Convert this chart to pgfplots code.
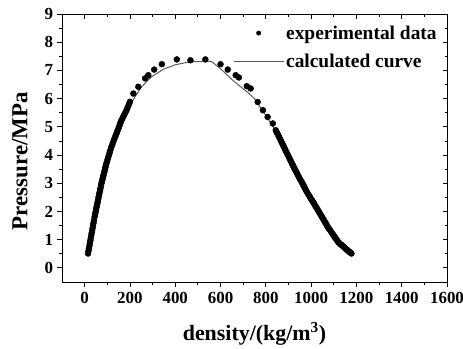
\documentclass[border=0pt]{standalone}
\usepackage{pgfplots}
\pgfplotsset{compat=1.18}
\usepackage{fontspec}
\setmainfont{Liberation Serif}
\definecolor{curvegray}{HTML}{5A5A5A}
\begin{document}
\begin{tikzpicture}
\begin{axis}[
  at={(0,0)}, anchor=south west,
  scale only axis, width=385bp, height=268bp,
  xmin=-100, xmax=1600, ymin=-0.5, ymax=9,
  xtick={0,200,...,1600}, ytick={0,1,...,9},
  minor x tick num=1, minor y tick num=1,
  xtick pos=left, ytick pos=left,
  tick align=outside,
  major tick length=4.5bp, minor tick length=2.5bp,
  every tick/.style={black, line width=0.8bp},
  axis line style={black, line width=0.9bp},
  /pgf/number format/assume math mode=true,
  /pgf/number format/1000 sep={},
  ticklabel style={font=\fontsize{17}{17}\selectfont\bfseries},
  xticklabel style={yshift=-2bp},
  yticklabel style={xshift=-1bp},
  xlabel={density/(kg/m\textsuperscript{3})},
  ylabel={Pressure/MPa},
  xlabel style={font=\fontsize{22}{22}\selectfont\bfseries, at={(rel axis cs:0.5,0)}, anchor=center, yshift=-52bp},
  ylabel style={font=\fontsize{23}{23}\selectfont\bfseries, at={(rel axis cs:0,0.451)}, anchor=center, yshift=42bp},
  legend style={draw=none, fill=none, at={(rel axis cs:0.444,0.965)}, anchor=north west,
    font=\fontsize{19.5}{19.5}\selectfont\bfseries, row sep=9bp, inner sep=0pt},
  legend cell align=left,
  clip=false,
]
\addplot[only marks, mark=*, mark size=3bp, black,
  legend image code/.code={\fill[black] (25bp,0) circle (2.2bp);}]
  coordinates {
(15,0.51)(17,0.60)(19,0.69)(21,0.78)(23,0.87)(25,0.96)(27,1.05)(29,1.14)(31,1.23)
(33,1.32)(35,1.41)(37,1.50)(39,1.59)(41,1.68)(44,1.81)(46,1.89)(48,1.97)(50,2.05)
(52,2.13)(54,2.20)(56,2.28)(58,2.36)(60,2.44)(62,2.52)(64,2.60)(66,2.68)(68,2.76)
(70,2.83)(72,2.91)(74,2.99)(76,3.05)(78,3.12)(80,3.18)(82,3.25)(84,3.31)(86,3.38)
(88,3.44)(90,3.51)(92,3.57)(94,3.64)(96,3.70)(99,3.78)(102,3.86)(105,3.94)(108,4.02)
(111,4.10)(114,4.18)(118,4.29)(122,4.37)(126,4.46)(130,4.55)(134,4.63)(138,4.71)
(141,4.77)(145,4.86)(149,4.94)(153,5.03)(157,5.12)(160,5.18)(163,5.24)(167,5.30)
(171,5.37)(175,5.43)(180,5.51)(185,5.59)(190,5.69)(195,5.79)(200,5.89)
(215,6.18)(237,6.42)(267,6.72)
(281,6.83)(307,7.03)(341,7.22)(407,7.39)(467,7.36)(533,7.39)(600,7.22)(632,7.03)
(667,6.83)(681,6.75)(716,6.44)(733,6.36)(764,5.88)(787,5.59)(808,5.35)(831,5.12)
(844,4.88)(848,4.81)(852,4.75)(856,4.68)(860,4.62)(864,4.55)(868,4.48)(872,4.42)
(876,4.35)(880,4.29)(884,4.22)(888,4.15)(892,4.09)(896,4.02)(900,3.96)(904,3.89)
(908,3.82)(912,3.76)(916,3.69)(920,3.63)(924,3.56)(928,3.50)(932,3.44)(936,3.38)
(940,3.32)(944,3.25)(948,3.19)(952,3.13)(956,3.08)(960,3.02)(964,2.96)(968,2.90)
(972,2.84)(976,2.77)(980,2.71)(985,2.64)(989,2.59)(993,2.54)(997,2.48)(1001,2.43)
(1005,2.38)(1009,2.33)(1013,2.28)(1017,2.22)(1021,2.17)(1025,2.12)(1030,2.05)(1034,2.00)
(1038,1.94)(1042,1.89)(1046,1.83)(1050,1.78)(1054,1.72)(1058,1.67)(1062,1.61)
(1066,1.56)(1070,1.50)(1074,1.45)(1078,1.40)(1082,1.36)(1086,1.31)(1090,1.26)
(1094,1.21)(1098,1.17)(1102,1.12)(1106,1.07)(1110,1.03)(1114,0.98)(1119,0.92)
(1123,0.89)(1127,0.86)(1131,0.83)(1135,0.81)(1139,0.78)(1143,0.75)(1147,0.72)
(1151,0.69)(1155,0.66)(1159,0.64)(1163,0.61)(1167,0.58)(1171,0.56)(1175,0.53)(1178,0.51)
  };
\addlegendentry{experimental data}
\addplot[curvegray, line width=1bp, mark=none,
  legend image code/.code={\draw[curvegray, line width=1bp] (0,0) -- (50bp,0);}]
  coordinates {
(12,0.48)(30,1.2)(50,2.0)(75,2.95)(100,3.7)(125,4.35)(150,4.9)(175,5.35)
(200,5.75)(225,6.1)(250,6.4)(275,6.62)(300,6.8)(350,7.05)(400,7.2)(467,7.31)
(560,7.32)(607,7.01)(650,6.68)(700,6.35)(720,6.22)(750,6.0)(800,5.4)(850,4.78)
(900,3.96)(950,3.17)(1000,2.44)(1050,1.78)(1100,1.15)(1150,0.7)(1180,0.5)
  };
\addlegendentry{calculated curve}
\end{axis}
\begin{axis}[
  at={(0,0)}, anchor=south west,
  scale only axis, width=385bp, height=268bp,
  xmin=-100, xmax=1600, ymin=-0.5, ymax=9,
  xtick={0,200,...,1600}, ytick={0,1,...,9},
  minor x tick num=1, minor y tick num=1,
  xtick pos=right, ytick pos=right,
  tick align=inside,
  major tick length=4.5bp, minor tick length=2.5bp,
  every tick/.style={black, line width=0.8bp},
  axis line style={black, line width=0.9bp},
  xticklabels={}, yticklabels={},
]
\end{axis}
\pgfresetboundingbox
\path (-62bp,-67bp) rectangle (401bp,282bp);
\end{tikzpicture}
\end{document}
